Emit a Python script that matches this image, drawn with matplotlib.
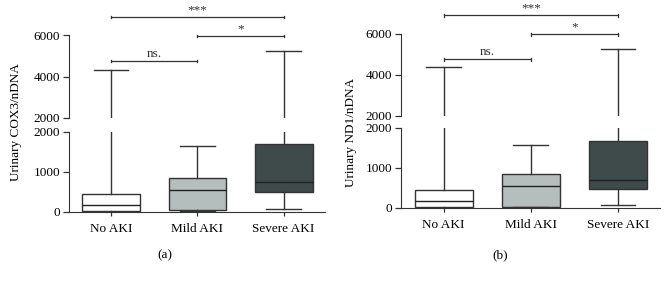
import numpy as np
import matplotlib
matplotlib.use('Agg')
import matplotlib.pyplot as plt

plt.rcParams['font.family'] = ['Liberation Serif', 'DejaVu Serif']

groups = ['No AKI', 'Mild AKI', 'Severe AKI']
box_colors = ['#ffffff', '#b4bebc', '#3e4b4a']
line_color = '#333333'

# panel (a): COX3
cox3_whislo = [5, 20, 70]
cox3_q1 = [20, 40, 500]
cox3_med = [180, 540, 740]
cox3_q3 = [440, 840, 1700]
cox3_whishi = [4340, 1650, 5230]

# panel (b): ND1
nd1_whislo = [5, 20, 80]
nd1_q1 = [20, 30, 470]
nd1_med = [180, 550, 700]
nd1_q3 = [440, 850, 1680]
nd1_whishi = [4400, 1580, 5280]

# significance brackets: (group from, group to, y, text)
cox3_sig = [(0, 2, 6870, '***'), (1, 2, 5960, '*'), (0, 1, 4750, 'ns.')]
nd1_sig = [(0, 2, 6900, '***'), (1, 2, 5970, '*'), (0, 1, 4760, 'ns.')]

fs = 9.5


def make_stats(lo, q1, med, q3, hi):
    return [dict(whislo=lo[i], q1=q1[i], med=med[i], q3=q3[i], whishi=hi[i],
                 fliers=[], label=groups[i]) for i in range(len(groups))]


def draw_boxes(ax, stats):
    b = ax.bxp(stats, positions=range(3), widths=0.67, capwidths=0.4,
               patch_artist=True, showfliers=False,
               boxprops=dict(edgecolor=line_color, linewidth=1.0),
               medianprops=dict(color='#222222', linewidth=1.0),
               whiskerprops=dict(color=line_color, linewidth=1.0),
               capprops=dict(color=line_color, linewidth=1.0))
    for patch, c in zip(b['boxes'], box_colors):
        patch.set_facecolor(c)


def panel(fig, left, width, low_bottom, up_bottom, up_height, stats, sig,
          ylabel, ylab_pos, letter, letter_x):
    ax_lo = fig.add_axes([left, low_bottom, width, 0.2847])
    ax_up = fig.add_axes([left, up_bottom, width, up_height])
    for ax in (ax_lo, ax_up):
        draw_boxes(ax, stats)
        ax.set_xlim(-0.49, 2.48)
        ax.spines['top'].set_visible(False)
        ax.spines['right'].set_visible(False)
        ax.spines['left'].set_color(line_color)
        ax.spines['bottom'].set_color(line_color)
        ax.tick_params(colors=line_color, labelcolor='black', labelsize=fs,
                       length=4, width=0.9, pad=2.5)
    ax_lo.set_ylim(0, 2000)
    ax_lo.set_yticks([0, 1000, 2000])
    ax_lo.set_xticks(range(3))
    ax_lo.set_xticklabels(groups, fontsize=fs)
    ax_lo.tick_params(axis='x', length=3, pad=5)

    ax_up.set_ylim(2000, 7200)
    ax_up.set_yticks([2000, 4000, 6000])
    ax_up.spines['left'].set_bounds(2000, 6000)
    ax_up.spines['bottom'].set_visible(False)
    ax_up.set_xticks([])
    ax_up.patch.set_alpha(0)

    for a, b, y, t in sig:
        ax_up.plot([a, b], [y, y], color=line_color, lw=0.9, clip_on=False)
        for x in (a, b):
            ax_up.plot([x, x], [y - 60, y + 60], color=line_color, lw=0.9,
                       clip_on=False)
        ax_up.text((a + b) / 2, y + 50, t, ha='center', va='bottom',
                   fontsize=fs, color='#333333')

    fig.text(ylab_pos[0], ylab_pos[1], ylabel, rotation=90, ha='center',
             va='center', fontsize=fs)
    fig.text(letter_x, 0.093, letter, ha='center', va='center', fontsize=fs)


fig = plt.figure(figsize=(6.69, 2.81), dpi=100)

panel(fig, 0.1031, 0.3827, 0.2456, 0.5801, 0.383,
      make_stats(cox3_whislo, cox3_q1, cox3_med, cox3_q3, cox3_whishi),
      cox3_sig, 'Urinary COX3/nDNA', (0.024, 0.566), '(a)', 0.247)

panel(fig, 0.5994, 0.387, 0.2598, 0.5872, 0.38,
      make_stats(nd1_whislo, nd1_q1, nd1_med, nd1_q3, nd1_whishi),
      nd1_sig, 'Urinary ND1/nDNA', (0.525, 0.53), '(b)', 0.748)

fig.savefig('out.png', dpi=100)
